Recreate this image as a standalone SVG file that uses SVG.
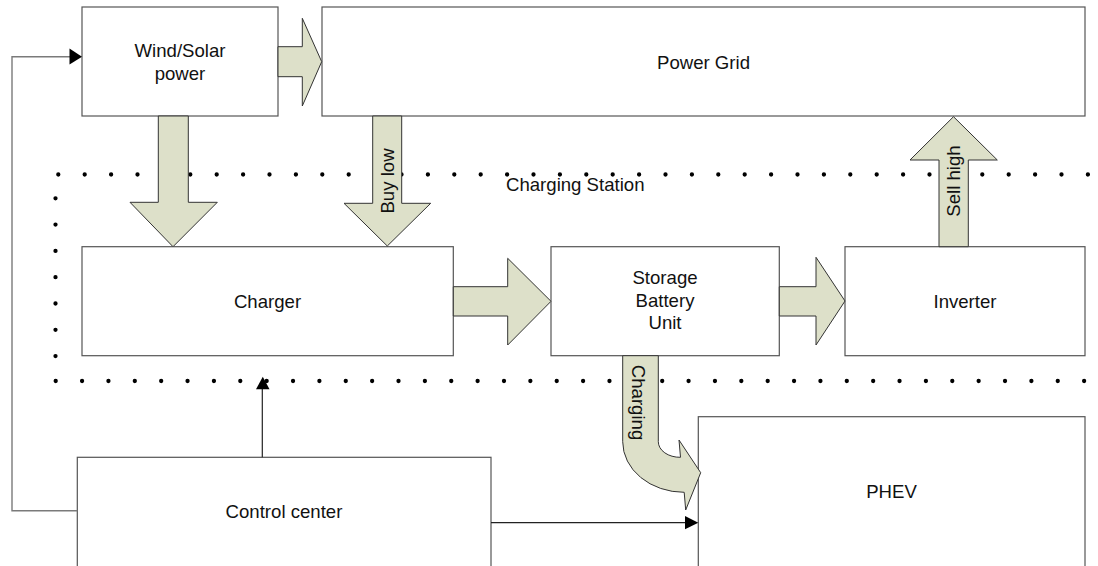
<svg xmlns="http://www.w3.org/2000/svg" width="1098" height="566" viewBox="0 0 1098 566">
<style>
.box{fill:#fff;stroke:#555;stroke-width:1.2}
.arr{fill:#dde0c9;stroke:#333;stroke-width:1}
.lbl{font-family:"Liberation Sans",Arial,sans-serif;font-size:18.6px;fill:#111;text-anchor:middle}
.dots{fill:none;stroke:#000;stroke-width:4.3;stroke-linecap:round}
.wire{fill:none;stroke:#222;stroke-width:1.2}
.loop{fill:none;stroke:#7a7a7a;stroke-width:1.4}
.head{fill:#000;stroke:none}
</style>
<rect width="1098" height="566" fill="#fff"/>

<g id="charging-station">
<line class="dots" x1="58.3" y1="174.5" x2="1088" y2="174.5" stroke-dasharray="0 26.4"/>
<line class="dots" x1="55.7" y1="381" x2="1085" y2="381" stroke-dasharray="0 26.37"/>
<line class="dots" x1="55.5" y1="198.3" x2="55.5" y2="357" stroke-dasharray="0 26.3"/>
<text class="lbl" x="506" y="190.7" style="text-anchor:start">Charging Station</text>
</g>

<g id="wind-solar">
<rect class="box" x="82" y="7" width="196" height="109"/>
<text class="lbl" x="180" y="56.7">Wind/Solar</text>
<text class="lbl" x="180" y="79.5">power</text>
</g>

<g id="power-grid">
<rect class="box" x="322" y="7" width="763" height="109"/>
<text class="lbl" x="703.5" y="68.5">Power Grid</text>
</g>

<g id="charger">
<rect class="box" x="82" y="246.7" width="371.3" height="109"/>
<text class="lbl" x="267.5" y="308">Charger</text>
</g>

<g id="storage">
<rect class="box" x="551" y="246.7" width="228.3" height="109"/>
<text class="lbl" x="665" y="284">Storage</text>
<text class="lbl" x="665" y="306.5">Battery</text>
<text class="lbl" x="665" y="329">Unit</text>
</g>

<g id="inverter">
<rect class="box" x="845" y="246.7" width="240" height="109"/>
<text class="lbl" x="965" y="308">Inverter</text>
</g>

<g id="phev">
<rect class="box" x="698.3" y="416.7" width="386.7" height="155"/>
<text class="lbl" x="891.5" y="498">PHEV</text>
</g>

<g id="control-center">
<rect class="box" x="77.3" y="457.3" width="413.7" height="114"/>
<text class="lbl" x="284" y="517.7">Control center</text>
</g>

<g id="connectors">
<!-- block arrows -->
<polygon class="arr" points="278,46.7 302.3,46.7 302.3,18.3 321.7,61.7 302.3,106 302.3,76.7 278,76.7"/>
<polygon class="arr" points="158.3,116 188.3,116 188.3,202.3 217.3,202.3 173,246.7 130,202.3 158.3,202.3"/>
<polygon class="arr" points="372.7,116 401.7,116 401.7,203.3 430.7,203.3 387.3,246 344,203.3 372.7,203.3"/>
<polygon class="arr" points="453.3,286.7 507.7,286.7 507.7,258.3 551,301.3 507.7,345 507.7,316 453.3,316"/>
<polygon class="arr" points="779.3,286.7 816,286.7 816,257.3 845,301 816,345 816,316 779.3,316"/>
<polygon class="arr" points="939,246.7 939,160 910,160 953.5,116.7 997.3,160 968.3,160 968.3,246.7"/>
<path class="arr" d="M622.7,355.7 L658.3,355.7 L658.3,441.7 A21.7,15.6 0 0 0 680.5,457.3 L679,440 L700.7,472.7 L685.7,510 L684.2,492.3 A61.5,50.6 0 0 1 622.7,441.7 Z"/>
<text class="lbl" transform="translate(394.3,181) rotate(-90)">Buy low</text>
<text class="lbl" transform="translate(960,181) rotate(-90)">Sell high</text>
<text class="lbl" transform="translate(632.4,402.5) rotate(90)">Charging</text>
<!-- line connectors -->
<polyline class="loop" points="77.3,510.7 12,510.7 12,56.7 70,56.7"/>
<polygon class="head" points="69.5,48.5 82,56.7 69.5,64.5"/>
<line class="wire" x1="262.3" y1="457.3" x2="262.3" y2="388"/>
<polygon class="head" points="256,389.3 262.8,376.7 269.5,389.3"/>
<line class="wire" x1="491" y1="522.7" x2="686" y2="522.7"/>
<polygon class="head" points="685,516 698.3,522.7 685,529.3"/>
</g>
</svg>
